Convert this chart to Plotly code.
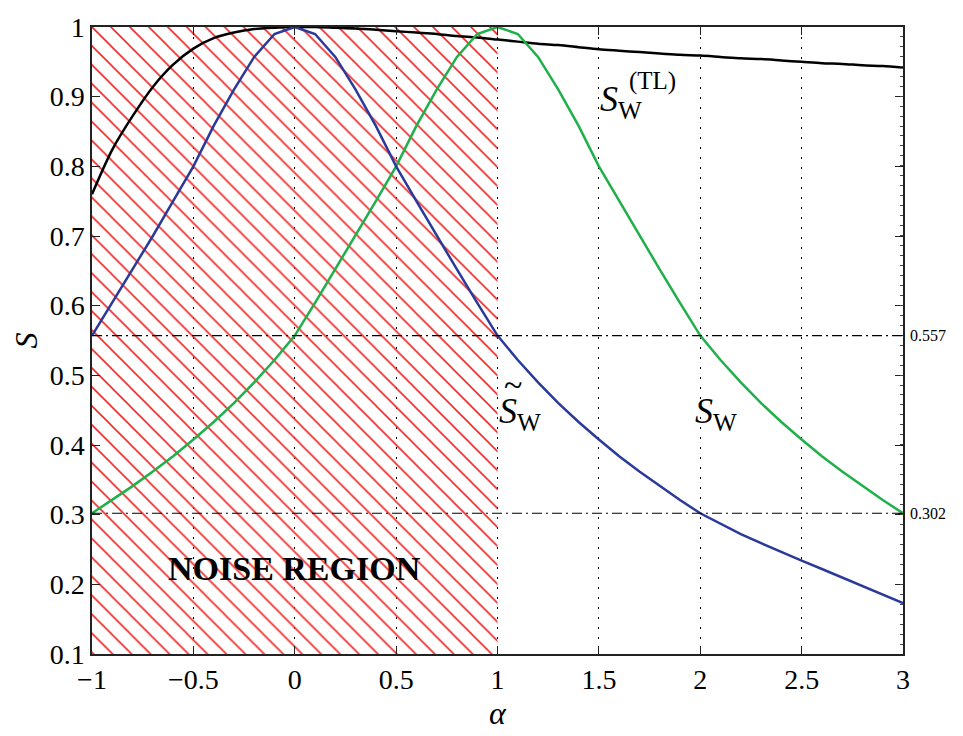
import plotly.graph_objects as go

# ---------------- data ----------------
alpha = [-1.0, -0.9, -0.8, -0.7, -0.6, -0.5, -0.4, -0.3, -0.2, -0.1,
         0.0, 0.1, 0.2, 0.3, 0.4, 0.5, 0.6, 0.7, 0.8, 0.9,
         1.0, 1.1, 1.2, 1.3, 1.4, 1.5, 1.6, 1.7, 1.8, 1.9,
         2.0, 2.1, 2.2, 2.3, 2.4, 2.5, 2.6, 2.7, 2.8, 2.9, 3.0]

s_tl = [0.760, 0.824, 0.872, 0.914, 0.946, 0.969, 0.984, 0.992, 0.997, 0.999,
        1.000, 1.000, 0.999, 0.998, 0.996, 0.994, 0.992, 0.990, 0.987, 0.985,
        0.982, 0.979, 0.976, 0.974, 0.971, 0.968, 0.966, 0.964, 0.962, 0.960,
        0.959, 0.957, 0.955, 0.954, 0.952, 0.950, 0.948, 0.947, 0.945, 0.944, 0.942]

s_tilde = [0.557, 0.604, 0.652, 0.700, 0.750, 0.800, 0.858, 0.910, 0.957, 0.990,
           1.000, 0.990, 0.957, 0.910, 0.858, 0.800, 0.750, 0.700, 0.652, 0.604,
           0.557, 0.522, 0.490, 0.460, 0.433, 0.408, 0.384, 0.362, 0.341, 0.321,
           0.302, 0.287, 0.272, 0.259, 0.246, 0.234, 0.222, 0.210, 0.197, 0.185, 0.173]

s_w = [0.302, 0.321, 0.341, 0.362, 0.384, 0.408, 0.433, 0.460, 0.490, 0.522,
       0.557, 0.604, 0.652, 0.700, 0.750, 0.800, 0.858, 0.910, 0.957, 0.990,
       1.000, 0.990, 0.957, 0.910, 0.858, 0.800, 0.750, 0.700, 0.652, 0.604,
       0.557, 0.522, 0.490, 0.460, 0.433, 0.408, 0.384, 0.362, 0.341, 0.321, 0.302]

ref_levels = [0.557, 0.302]
ref_labels = ["0.557", "0.302"]
noise_x = [-1.0, 1.0]
x_range = [-1.0, 3.0]
y_range = [0.1, 1.0]
x_ticks = [-1, -0.5, 0, 0.5, 1, 1.5, 2, 2.5, 3]

SERIF = '"Liberation Serif", "DejaVu Serif", serif'
BLUE = "#2a3a9a"
GREEN = "#1fb04a"
RED = "#f02828"

fig = go.Figure()

# noise region (hatched)
fig.add_trace(go.Scatter(
    x=[noise_x[0], noise_x[1], noise_x[1], noise_x[0], noise_x[0]],
    y=[y_range[0], y_range[0], y_range[1], y_range[1], y_range[0]],
    fill="toself", mode="lines", line=dict(width=0),
    fillcolor="rgba(0,0,0,0)",
    fillpattern=dict(shape="\\", fgcolor=RED, fgopacity=1, bgcolor="rgba(0,0,0,0)",
                     size=13.4, solidity=0.12, fillmode="overlay"),
    hoverinfo="skip", showlegend=False))

fig.add_trace(go.Scatter(x=alpha, y=s_tl, mode="lines",
                         line=dict(color="black", width=2.5, shape="spline", smoothing=0.8),
                         showlegend=False))
fig.add_trace(go.Scatter(x=alpha, y=s_w, mode="lines",
                         line=dict(color=GREEN, width=2.5), showlegend=False))
fig.add_trace(go.Scatter(x=alpha, y=s_tilde, mode="lines",
                         line=dict(color=BLUE, width=2.5), showlegend=False))

# invisible trace to activate right axis
fig.add_trace(go.Scatter(x=[x_range[0]], y=[y_range[0]], yaxis="y2", mode="markers",
                         marker=dict(opacity=0), hoverinfo="skip", showlegend=False))

for lv in ref_levels:
    fig.add_shape(type="line", x0=x_range[0], x1=x_range[1], y0=lv, y1=lv,
                  xref="x", yref="y",
                  line=dict(color="black", width=1.2, dash="10px,4px,2px,4px"))

ann_font = dict(family=SERIF, size=36, color="black")
fig.add_annotation(x=0.0, y=0.223, text="<b>NOISE REGION</b>", showarrow=False,
                   font=dict(family=SERIF, size=34, color="black"),
                   xanchor="center", yanchor="middle")
fig.add_annotation(x=1.496, y=0.893, text="<i>S</i><sub>W</sub>", showarrow=False,
                   font=ann_font, xanchor="left", yanchor="middle")
fig.add_annotation(x=1.64, y=0.922, text="(TL)", showarrow=False,
                   font=dict(family=SERIF, size=25, color="black"),
                   xanchor="left", yanchor="middle")
fig.add_annotation(x=0.998, y=0.445, text="<i>S</i><sub>W</sub>", showarrow=False,
                   font=ann_font, xanchor="left", yanchor="middle")
fig.add_annotation(x=1.075, y=0.487, text="~", showarrow=False,
                   font=dict(family=SERIF, size=34, color="black"),
                   xanchor="center", yanchor="middle")
fig.add_annotation(x=1.964, y=0.445, text="<i>S</i><sub>W</sub>", showarrow=False,
                   font=ann_font, xanchor="left", yanchor="middle")

tick_font = dict(family=SERIF, size=28, color="black")
fig.update_layout(
    width=963, height=736,
    margin=dict(l=92, r=60, t=17, b=76),
    paper_bgcolor="white", plot_bgcolor="white",
    showlegend=False,
    xaxis=dict(range=x_range, tickmode="array", tickvals=x_ticks,
               ticks="inside", ticklen=8, tickwidth=1.2, tickcolor="#222",
               showline=True, linecolor="#222", linewidth=1.5, mirror="ticks",
               showgrid=True, gridcolor="black", gridwidth=1, griddash="2px,8px",
               zeroline=False, tickfont=tick_font,
               title=dict(text="<i>α</i>", font=dict(family=SERIF, size=32, color="black"),
                          standoff=6)),
    yaxis=dict(range=y_range, tickmode="linear", tick0=0.1, dtick=0.1,
               ticks="inside", ticklen=8, tickwidth=1.2, tickcolor="#222",
               showline=True, linecolor="#222", linewidth=1.5, mirror="ticks",
               showgrid=False, zeroline=False, tickfont=tick_font,
               title=dict(text="<i>S</i>", font=dict(family=SERIF, size=32, color="black"),
                          standoff=2)),
    yaxis2=dict(range=y_range, overlaying="y", side="right",
                tickmode="array", tickvals=ref_levels, ticktext=ref_labels,
                ticks="inside", ticklen=5, tickcolor="#222", ticklabelstandoff=6,
                showline=False, showgrid=False, zeroline=False,
                tickfont=dict(family=SERIF, size=16, color="black"),
                minor=dict(tickmode="linear", tick0=0.1, dtick=0.0143,
                           ticks="inside", ticklen=3, tickcolor="#444")),
)

fig.write_html("out.html")
